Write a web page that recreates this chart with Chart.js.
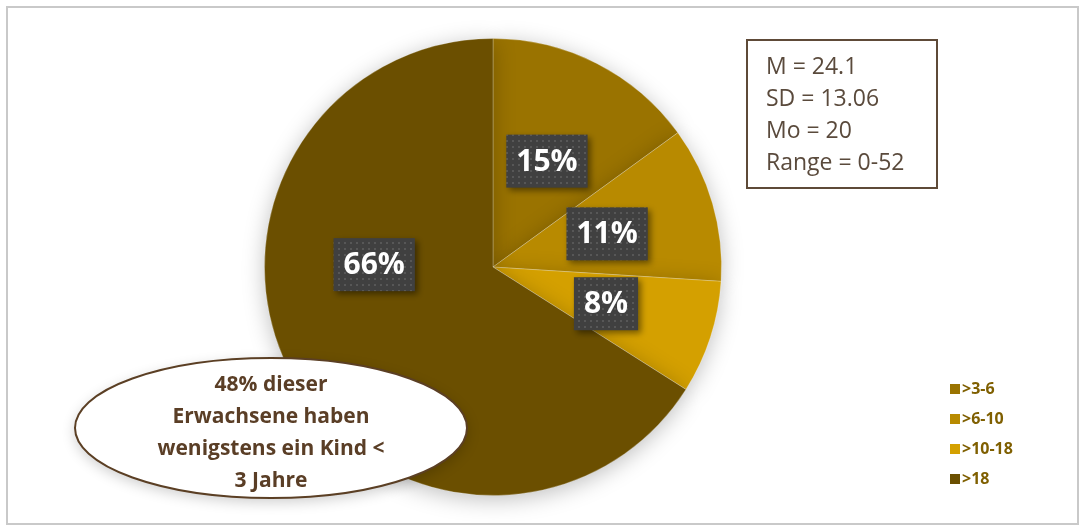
<!DOCTYPE html>
<html>
<head>
<meta charset="utf-8">
<script src="https://cdn.jsdelivr.net/npm/chart.js@4.4.1/dist/chart.umd.min.js"></script>
<style>
  html, body { margin: 0; padding: 0; background: #fff; }
  #wrap { position: relative; width: 1081px; height: 532px; }
  #frame { position: absolute; left: 6px; top: 6px; width: 1069px; height: 515px; border: 2px solid #c9c9c9; pointer-events: none; }
</style>
</head>
<body>
<div id="wrap">
  <canvas id="pieChart" width="1081" height="532"></canvas>
  <div id="frame"></div>
</div>
<script>
// chart data
const categories = [">3-6", ">6-10", ">10-18", ">18"];
const shares = [15, 11, 8, 66];
const sliceColors = ["#9a7300", "#b88a00", "#d4a000", "#6b4f00"];

const statsLines = ["M = 24.1", "SD = 13.06", "Mo = 20", "Range = 0-52"];
const noteLines = ["48% dieser", "Erwachsene haben", "wenigstens ein Kind <", "3 Jahre"];

const FONT = "'Open Sans', 'Noto Sans', sans-serif";

// dotted dark pattern for the percentage boxes
function makePattern(ctx) {
    const p = document.createElement("canvas");
    p.width = 6;
    p.height = 6;
    const pc = p.getContext("2d");
    pc.fillStyle = "#404040";
    pc.fillRect(0, 0, 6, 6);
    pc.fillStyle = "#575757";
    pc.fillRect(2, 2, 2, 2);
    return ctx.createPattern(p, "repeat");
}

// pie shadow
const shadowPlugin = {
    id: "pieShadow",
    beforeDatasetsDraw(chart) {
        const ctx = chart.ctx;
        ctx.save();
        ctx.shadowColor = "rgba(0,0,0,0.25)";
        ctx.shadowBlur = 22;
        ctx.shadowOffsetX = 0;
        ctx.shadowOffsetY = 4;
    },
    afterDatasetsDraw(chart) {
        chart.ctx.restore();
    }
};

// percentage labels, stats box, note ellipse, legend
const overlayPlugin = {
    id: "overlay",
    afterDraw(chart) {
        const ctx = chart.ctx;
        const meta = chart.getDatasetMeta(0);
        const pattern = makePattern(ctx);

        // labels
        ctx.save();
        ctx.font = "bold 30px " + FONT;
        ctx.textAlign = "center";
        ctx.textBaseline = "middle";
        meta.data.forEach((arc, i) => {
            const p = arc.getProps(["x", "y", "startAngle", "endAngle", "outerRadius"], true);
            let angle = (p.startAngle + p.endAngle) / 2;
            if (i === 3) angle = Math.PI + 0.02; // big slice label sits to the left
            const r = p.outerRadius * 0.52;
            const x = p.x + Math.cos(angle) * r;
            const y = p.y + Math.sin(angle) * r;
            const text = shares[i] + "%";
            const w = ctx.measureText(text).width + 20;
            const h = 53;
            ctx.save();
            ctx.shadowColor = "rgba(0,0,0,0.45)";
            ctx.shadowBlur = 6;
            ctx.shadowOffsetX = 3;
            ctx.shadowOffsetY = 3;
            ctx.fillStyle = pattern;
            ctx.fillRect(x - w / 2, y - h / 2, w, h);
            ctx.restore();
            ctx.fillStyle = "#ffffff";
            ctx.fillText(text, x, y + 1);
        });
        ctx.restore();

        // stats box
        ctx.save();
        ctx.strokeStyle = "#5e4a38";
        ctx.lineWidth = 2;
        ctx.strokeRect(747, 40, 190, 148);
        ctx.fillStyle = "#5a4a3c";
        ctx.font = "23px " + FONT;
        ctx.textBaseline = "middle";
        statsLines.forEach((line, i) => {
            ctx.fillText(line, 766, 67 + i * 32);
        });
        ctx.restore();

        // note ellipse
        ctx.save();
        ctx.beginPath();
        ctx.ellipse(271, 428, 196, 70, 0, 0, Math.PI * 2);
        ctx.shadowColor = "rgba(0,0,0,0.2)";
        ctx.shadowBlur = 14;
        ctx.shadowOffsetY = 4;
        ctx.fillStyle = "#ffffff";
        ctx.fill();
        ctx.shadowColor = "transparent";
        ctx.strokeStyle = "#5b3f24";
        ctx.lineWidth = 2;
        ctx.stroke();
        ctx.fillStyle = "#5a3e26";
        ctx.font = "bold 21px " + FONT;
        ctx.textAlign = "center";
        ctx.textBaseline = "middle";
        noteLines.forEach((line, i) => {
            ctx.fillText(line, 271, 385 + i * 32);
        });
        ctx.restore();

        // legend
        ctx.save();
        ctx.font = "bold 16px " + FONT;
        ctx.textBaseline = "middle";
        categories.forEach((cat, i) => {
            const y = 389 + i * 30;
            ctx.fillStyle = sliceColors[i];
            ctx.fillRect(950, y - 5, 10, 10);
            ctx.fillStyle = "#7f5f00";
            ctx.fillText(cat, 962, y);
        });
        ctx.restore();
    }
};

new Chart(document.getElementById("pieChart"), {
    type: "pie",
    data: {
        labels: categories,
        datasets: [{
            data: shares,
            backgroundColor: sliceColors,
            borderColor: "rgba(255,255,255,0.25)",
            borderWidth: 1
        }]
    },
    options: {
        responsive: false,
        animation: false,
        layout: {
            padding: { left: 264, right: 359, top: 38, bottom: 36 }
        },
        plugins: {
            legend: { display: false },
            tooltip: { enabled: false }
        }
    },
    plugins: [shadowPlugin, overlayPlugin]
});
</script>
</body>
</html>
